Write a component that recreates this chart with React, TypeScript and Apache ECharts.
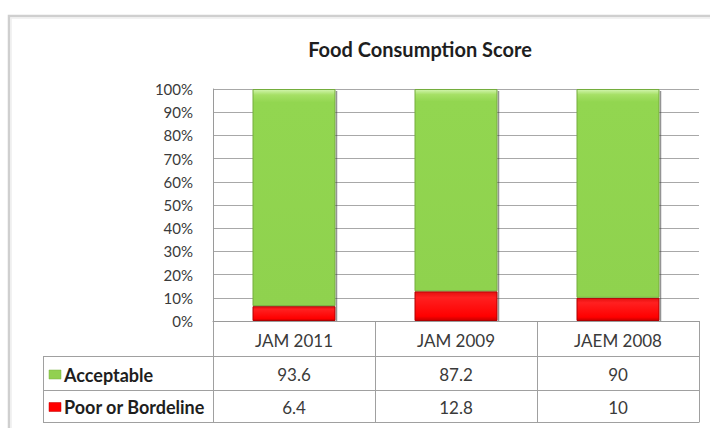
import React, { useEffect, useRef } from "react";
import * as echarts from "echarts";

const categories = ["JAM 2011", "JAM 2009", "JAEM 2008"];
const acceptable = [93.6, 87.2, 90];
const poorOrBorderline = [6.4, 12.8, 10];
const seriesNames = ["Acceptable", "Poor or Bordeline"];
const seriesColors = ["#92d050", "#ff0000"];
const chartTitle = "Food Consumption Score";

const FONT = "Lato, 'Open Sans', sans-serif";

export default function App() {
  const ref = useRef<HTMLDivElement>(null);

  useEffect(() => {
    document.body.style.margin = "0";
    document.body.style.overflow = "hidden";
    document.documentElement.style.overflow = "hidden";
    const chart = echarts.init(ref.current!, null, { renderer: "svg" });
    const W = 710;
    const H = 428;
    const gLeft = 213;
    const gRight = 699;
    const gTop = 89;
    const gBottom = 321;

    const greenFill = new echarts.graphic.LinearGradient(0, 0, 0, 1, [
      { offset: 0, color: "#d2f5ae" },
      { offset: 0.025, color: "#a6e066" },
      { offset: 0.06, color: "#92d650" },
      { offset: 1, color: "#8fd24e" },
    ]);
    const redFill = new echarts.graphic.LinearGradient(0, 0, 0, 1, [
      { offset: 0, color: "#e41010" },
      { offset: 0.2, color: "#ff2020" },
      { offset: 0.85, color: "#ff0000" },
      { offset: 1, color: "#c80000" },
    ]);

    chart.setOption({
      animation: false,
      backgroundColor: "#ffffff",
      grid: { left: gLeft, right: W - gRight, top: gTop, bottom: H - gBottom },
      xAxis: {
        type: "category",
        data: categories,
        axisTick: { show: false },
        axisLine: { lineStyle: { color: "#9a9a9a", width: 1 } },
        axisLabel: {
          margin: 11,
          fontFamily: FONT,
          fontSize: 17,
          color: "#3a3a3a",
        },
      },
      yAxis: {
        type: "value",
        min: 0,
        max: 100,
        interval: 10,
        axisLine: { show: true, lineStyle: { color: "#9a9a9a" } },
        axisTick: { show: false },
        splitLine: { lineStyle: { color: "#a8a8a8", width: 1 } },
        axisLabel: {
          formatter: "{value}%",
          margin: 20,
          fontFamily: FONT,
          fontSize: 15,
          color: "#3a3a3a",
        },
      },
      series: [
        {
          name: seriesNames[1],
          type: "bar",
          stack: "total",
          data: poorOrBorderline,
          barWidth: 83,
          itemStyle: {
            color: redFill,
            borderColor: "#b00000",
            borderWidth: 1,
          },
        },
        {
          name: seriesNames[0],
          type: "bar",
          stack: "total",
          data: acceptable,
          barWidth: 83,
          itemStyle: {
            color: greenFill,
            borderColor: "#74ad3c",
            borderWidth: 1,
          },
        },
      ],
    });

    // Data table under the chart, positioned from the axis scale
    const rowLines = [356.5, 390.5, 422.5];
    const tableLeft = 43;
    const centers = categories.map(
      (c) => chart.convertToPixel({ xAxisIndex: 0 }, c) as number
    );
    const colW = (gRight - gLeft) / categories.length;
    const boundaries = [gLeft, ...centers.map((c) => c + colW / 2)];
    const rowCenters = [
      (rowLines[0] + rowLines[1]) / 2 + 1,
      (rowLines[1] + rowLines[2]) / 2 + 0.5,
    ];
    const rowValues = [acceptable, poorOrBorderline];
    const legendColors = [seriesColors[0], seriesColors[1]];

    const graphics: any[] = [];
    // outer frame (runs off the right and bottom edges)
    graphics.push({
      type: "polyline",
      shape: { points: [[9, H], [9, 16], [W, 16]] },
      style: { fill: "none", stroke: "#cfcfcf", lineWidth: 2.5 },
      silent: true,
    });
    graphics.push({
      type: "polyline",
      shape: { points: [[11, H], [11, 18], [W, 18]] },
      style: { fill: "none", stroke: "#eeeeee", lineWidth: 1.5 },
      silent: true,
    });
    // right-edge bar shadows
    categories.forEach((c, i) => {
      const top = chart.convertToPixel({ yAxisIndex: 0 }, 100) as number;
      const bottom = chart.convertToPixel({ yAxisIndex: 0 }, 0) as number;
      graphics.push({
        type: "line",
        shape: { x1: centers[i] + 42.5, y1: top + 2, x2: centers[i] + 42.5, y2: bottom },
        style: { stroke: "rgba(60,60,60,0.55)", lineWidth: 1.5 },
        z: 5,
      });
    });
    graphics.push({
      type: "text",
      x: 420,
      y: 49,
      style: {
        text: chartTitle,
        fontFamily: FONT,
        fontSize: 20,
        fontWeight: "bold",
        fill: "#1e1e1e",
        align: "center",
        verticalAlign: "middle",
      },
    });
    // horizontal table lines
    rowLines.forEach((y) => {
      graphics.push({
        type: "line",
        shape: { x1: tableLeft, y1: y, x2: gRight, y2: y },
        style: { stroke: "#a0a0a0", lineWidth: 1 },
      });
    });
    // vertical table lines
    boundaries.forEach((x) => {
      graphics.push({
        type: "line",
        shape: { x1: Math.round(x) + 0.5, y1: gBottom, x2: Math.round(x) + 0.5, y2: rowLines[2] },
        style: { stroke: "#a0a0a0", lineWidth: 1 },
      });
    });
    graphics.push({
      type: "line",
      shape: { x1: tableLeft + 0.5, y1: rowLines[0], x2: tableLeft + 0.5, y2: rowLines[2] },
      style: { stroke: "#a0a0a0", lineWidth: 1 },
    });
    // row labels with legend keys
    seriesNames.forEach((name, r) => {
      graphics.push({
        type: "rect",
        shape: { x: 49, y: rowCenters[r] - 4.5, width: 12, height: 9 },
        style: { fill: legendColors[r], stroke: r === 0 ? "#78b040" : "#c00000", lineWidth: 0.5 },
      });
      graphics.push({
        type: "text",
        x: 64,
        y: rowCenters[r],
        style: {
          text: name,
          fontFamily: FONT,
          fontSize: 18,
          fontWeight: "bold",
          fill: "#1e1e1e",
          align: "left",
          verticalAlign: "middle",
        },
      });
      rowValues[r].forEach((v, i) => {
        graphics.push({
          type: "text",
          x: centers[i],
          y: rowCenters[r],
          style: {
            text: String(v),
            fontFamily: FONT,
            fontSize: 17,
            fill: "#3a3a3a",
            align: "center",
            verticalAlign: "middle",
          },
        });
      });
    });

    chart.setOption({ graphic: graphics });

    return () => chart.dispose();
  }, []);

  return (
    <div
      ref={ref}
      style={{ position: "fixed", left: 0, top: 0, width: 710, height: 428 }}
    />
  );
}
